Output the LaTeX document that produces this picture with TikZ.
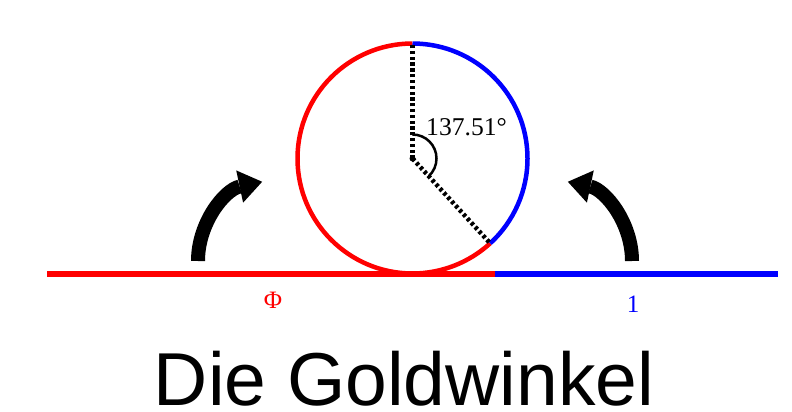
\documentclass[tikz,border=0pt]{standalone}
\usepackage{fontspec}
\setmainfont{Liberation Serif}
\newfontfamily\titlefont{Liberation Sans}
\usetikzlibrary{arrows.meta}
\begin{document}
\begin{tikzpicture}[x=1pt,y=1pt,
  baseline seg/.style={line width=5.5pt},
  ring/.style={line width=4.5pt},
  radius line/.style={line width=4.5pt, dash pattern=on 3.2pt off 2.6pt},
  angle mark/.style={line width=2.5pt},
  bigarrow/.style={line width=14pt, -{Triangle[length=23pt,width=33pt,line width=0pt]}},
  lbl/.style={inner sep=0pt, anchor=base}]
\useasboundingbox (0,0) rectangle (792,-412);
\coordinate (C) at (412.5,-158.5);
\coordinate (L) at (47,-274);
\coordinate (S) at (495,-274);
\coordinate (R) at (778,-274);
\path (C) ++(90:115) coordinate (T);
\path (C) ++(-47.51:115) coordinate (P);
\path (C) ++(90:24) coordinate (A);
% base line
\draw[baseline seg, red] (L) -- (S);
\draw[baseline seg, blue] (S) -- (R);
% circle
\draw[ring, red] (T) arc[start angle=90,end angle=312.49,radius=115];
\draw[ring, blue] (T) arc[start angle=90,end angle=-47.51,radius=115];
% radii
\draw[radius line] (C) -- (T);
\draw[radius line] (C) -- (P);
\fill (C) circle[radius=3];
\draw[angle mark] (A) arc[start angle=90,end angle=-47.51,radius=24];
\node[lbl, anchor=base west, font=\fontsize{25.6}{28}\selectfont] (ang) at (426,-135) {137.51°};
% arrows
\coordinate (LA) at (198,-261);
\coordinate (RA) at (632,-261);
\draw[bigarrow] (LA) arc[start angle=180,end angle=102,radius=81];
\draw[bigarrow] (RA) arc[start angle=0,end angle=78,radius=81];
% labels
\node[lbl, red, font=\fontsize{25}{28}\selectfont] (phi) at (273,-308) {Φ};
\node[lbl, blue, font=\fontsize{25}{28}\selectfont] (one) at (633,-312.5) {1};
\node[lbl, font=\titlefont\fontsize{75}{80}\selectfont] (title) at (404,-405) {Die Goldwinkel};
\end{tikzpicture}
\end{document}
